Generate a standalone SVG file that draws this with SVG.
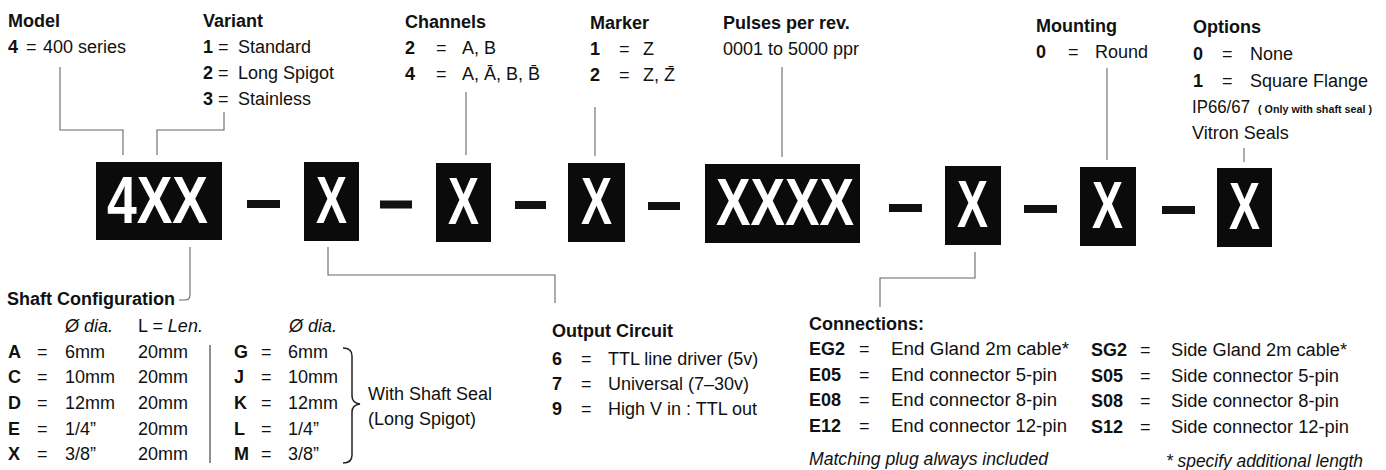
<svg xmlns="http://www.w3.org/2000/svg" width="1386" height="470" viewBox="0 0 1386 470">
<style>
text{font-family:"Liberation Sans",Arial,sans-serif;font-size:18px;fill:#111}
.b{font-weight:bold}
.i{font-style:italic}
.bx{fill:#0b0b0b}
.bt{font-family:"Liberation Sans",Arial,sans-serif;font-weight:bold;font-size:67px;fill:#fff}
.dash{fill:#111}
.ln{fill:none;stroke:#666;stroke-width:1.1}
.sm{font-size:10.5px;font-weight:bold}
</style>
<rect width="1386" height="470" fill="#fff"/>

<g id="connectors">
<path class="ln" d="M60,67 V130 H123 V155"/>
<path class="ln" d="M224,112 V130 H157 V155"/>
<path class="ln" d="M466,92 V155"/>
<path class="ln" d="M595,107 V156"/>
<path class="ln" d="M782,67 V157"/>
<path class="ln" d="M1107,68 V160"/>
<path class="ln" d="M1244,148 V162"/>
<path class="ln" d="M190,247 V295 Q190,300 185,300 H179"/>
<path class="ln" d="M328,247 V275 H555 V303"/>
<path class="ln" d="M975,252 V278 H880 V307"/>
</g>

<g id="code-boxes">
<g id="box-model"><rect class="bx" x="96" y="162" width="126" height="78"/><text class="bt" x="107" y="223" textLength="101" lengthAdjust="spacingAndGlyphs">4XX</text></g>
<rect class="dash" x="247" y="200" width="33" height="8"/>
<g id="box-output"><rect class="bx" x="304" y="162" width="55" height="79"/><text class="bt" x="316" y="223" textLength="31" lengthAdjust="spacingAndGlyphs">X</text></g>
<rect class="dash" x="380" y="200.5" width="32" height="8"/>
<g id="box-channels"><rect class="bx" x="436" y="163" width="55" height="79"/><text class="bt" x="448" y="224" textLength="31" lengthAdjust="spacingAndGlyphs">X</text></g>
<rect class="dash" x="515" y="201" width="31" height="8"/>
<g id="box-marker"><rect class="bx" x="568" y="163" width="57" height="79"/><text class="bt" x="581" y="224" textLength="31" lengthAdjust="spacingAndGlyphs">X</text></g>
<rect class="dash" x="648" y="202" width="32" height="8"/>
<g id="box-pulses"><rect class="bx" x="705" y="164" width="155" height="79"/><text class="bt" x="716" y="225" textLength="138" lengthAdjust="spacingAndGlyphs">XXXX</text></g>
<rect class="dash" x="889" y="204" width="33" height="8"/>
<g id="box-connections"><rect class="bx" x="945" y="166" width="56" height="79"/><text class="bt" x="957" y="227" textLength="31" lengthAdjust="spacingAndGlyphs">X</text></g>
<rect class="dash" x="1024" y="205" width="33" height="8"/>
<g id="box-mounting"><rect class="bx" x="1080" y="167" width="56" height="79"/><text class="bt" x="1092" y="228" textLength="31" lengthAdjust="spacingAndGlyphs">X</text></g>
<rect class="dash" x="1162" y="206" width="33" height="8"/>
<g id="box-options"><rect class="bx" x="1217" y="168" width="55" height="79"/><text class="bt" x="1229" y="229" textLength="31" lengthAdjust="spacingAndGlyphs">X</text></g>
</g>

<g id="model">
<text class="b" x="8" y="27">Model</text>
<text class="b" x="8" y="53">4</text><text x="26" y="53">=</text><text x="43" y="53">400 series</text>
</g>

<g id="variant">
<text class="b" x="203" y="27">Variant</text>
<text class="b" x="203" y="53">1</text><text x="218" y="53">=</text><text x="238" y="53">Standard</text>
<text class="b" x="203" y="79">2</text><text x="218" y="79">=</text><text x="238" y="79">Long Spigot</text>
<text class="b" x="203" y="105">3</text><text x="218" y="105">=</text><text x="238" y="105">Stainless</text>
</g>

<g id="channels">
<text class="b" x="405" y="28">Channels</text>
<text class="b" x="405" y="54">2</text><text x="436" y="54">=</text><text x="462" y="54">A, B</text>
<text class="b" x="405" y="80">4</text><text x="436" y="80">=</text><text x="462" y="80">A, Ā, B, B̄</text>
</g>

<g id="marker">
<text class="b" x="590" y="29">Marker</text>
<text class="b" x="590" y="55">1</text><text x="619" y="55">=</text><text x="643" y="55">Z</text>
<text class="b" x="590" y="81">2</text><text x="619" y="81">=</text><text x="643" y="81">Z, Z̄</text>
</g>

<g id="pulses">
<text class="b" x="723" y="29">Pulses per rev.</text>
<text x="723" y="55">0001 to 5000 ppr</text>
</g>

<g id="mounting">
<text class="b" x="1036" y="32">Mounting</text>
<text class="b" x="1036" y="58">0</text><text x="1068" y="58">=</text><text x="1095" y="58">Round</text>
</g>

<g id="options">
<text class="b" x="1193" y="33">Options</text>
<text class="b" x="1193" y="60">0</text><text x="1222" y="60">=</text><text x="1250" y="60">None</text>
<text class="b" x="1193" y="87">1</text><text x="1222" y="87">=</text><text x="1250" y="87">Square Flange</text>
<text x="1192" y="113" textLength="58" lengthAdjust="spacingAndGlyphs">IP66/67</text><text class="sm" x="1258" y="113" textLength="114" lengthAdjust="spacingAndGlyphs">( Only with shaft seal )</text>
<text x="1192" y="139">Vitron Seals</text>
</g>

<g id="shaft">
<text class="b" x="7" y="305">Shaft Configuration</text>
<text class="i" x="65" y="332">Ø dia.</text>
<text x="138" y="332">L <tspan class="i">= Len.</tspan></text>
<text class="i" x="289" y="332">Ø dia.</text>
<text class="b" x="8" y="358">A</text><text x="37" y="358">=</text><text x="65" y="358">6mm</text><text x="138" y="358">20mm</text>
<text class="b" x="8" y="383">C</text><text x="37" y="383">=</text><text x="65" y="383">10mm</text><text x="138" y="383">20mm</text>
<text class="b" x="8" y="409">D</text><text x="37" y="409">=</text><text x="65" y="409">12mm</text><text x="138" y="409">20mm</text>
<text class="b" x="8" y="435">E</text><text x="37" y="435">=</text><text x="65" y="435">1/4”</text><text x="138" y="435">20mm</text>
<text class="b" x="8" y="460">X</text><text x="37" y="460">=</text><text x="65" y="460">3/8”</text><text x="138" y="460">20mm</text>
<path class="ln" d="M210,345 V463" style="stroke:#333"/>
<text class="b" x="234" y="358">G</text><text x="261" y="358">=</text><text x="288" y="358">6mm</text>
<text class="b" x="234" y="383">J</text><text x="261" y="383">=</text><text x="288" y="383">10mm</text>
<text class="b" x="234" y="409">K</text><text x="261" y="409">=</text><text x="288" y="409">12mm</text>
<text class="b" x="234" y="435">L</text><text x="261" y="435">=</text><text x="288" y="435">1/4”</text>
<text class="b" x="234" y="460">M</text><text x="261" y="460">=</text><text x="288" y="460">3/8”</text>
<path class="ln" d="M343,348 Q352,348 352,356 V396 Q352,403 360,404 Q352,405 352,412 V455 Q352,463 343,463" style="stroke:#222;stroke-width:1.5"/>
<text x="368" y="400">With Shaft Seal</text>
<text x="368" y="425">(Long Spigot)</text>
</g>

<g id="output">
<text class="b" x="552" y="337">Output Circuit</text>
<text class="b" x="552" y="365">6</text><text x="581" y="365">=</text><text x="608" y="365">TTL line driver (5v)</text>
<text class="b" x="552" y="390">7</text><text x="581" y="390">=</text><text x="608" y="390">Universal (7–30v)</text>
<text class="b" x="552" y="415">9</text><text x="581" y="415">=</text><text x="608" y="415">High V in : TTL out</text>
</g>

<g id="connections">
<text class="b" x="809" y="330">Connections:</text>
<text class="b" x="809" y="355">EG2</text><text x="859" y="355">=</text><text x="891" y="355" textLength="178" lengthAdjust="spacingAndGlyphs">End Gland 2m cable*</text>
<text class="b" x="809" y="381">E05</text><text x="859" y="381">=</text><text x="891" y="381" textLength="166" lengthAdjust="spacingAndGlyphs">End connector 5-pin</text>
<text class="b" x="809" y="406">E08</text><text x="859" y="406">=</text><text x="891" y="406" textLength="166" lengthAdjust="spacingAndGlyphs">End connector 8-pin</text>
<text class="b" x="809" y="432">E12</text><text x="859" y="432">=</text><text x="891" y="432" textLength="176" lengthAdjust="spacingAndGlyphs">End connector 12-pin</text>
<text class="b" x="1091" y="356">SG2</text><text x="1140" y="356">=</text><text x="1171" y="356" textLength="176" lengthAdjust="spacingAndGlyphs">Side Gland 2m cable*</text>
<text class="b" x="1091" y="382">S05</text><text x="1140" y="382">=</text><text x="1171" y="382" textLength="168" lengthAdjust="spacingAndGlyphs">Side connector 5-pin</text>
<text class="b" x="1091" y="407">S08</text><text x="1140" y="407">=</text><text x="1171" y="407" textLength="168" lengthAdjust="spacingAndGlyphs">Side connector 8-pin</text>
<text class="b" x="1091" y="433">S12</text><text x="1140" y="433">=</text><text x="1171" y="433" textLength="178" lengthAdjust="spacingAndGlyphs">Side connector 12-pin</text>
<text class="i" x="809" y="465" textLength="239" lengthAdjust="spacingAndGlyphs">Matching plug always included</text>
<text class="i" x="1166" y="467" textLength="197" lengthAdjust="spacingAndGlyphs">* specify additional length</text>
</g>
</svg>
